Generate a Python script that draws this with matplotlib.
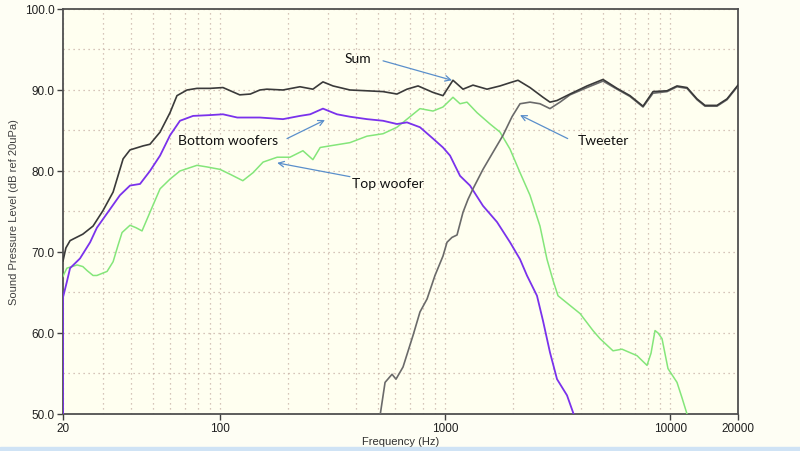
import numpy as np
import matplotlib.pyplot as plt
from matplotlib.ticker import FixedLocator, NullFormatter, MultipleLocator

# frequency (Hz) / level (dB)
sum_f = [20, 20.6, 21.5, 22.2, 24.5, 27.2, 30.1, 33.4, 37.0, 39.7, 45.4, 48.7, 54.0, 59.8, 64.2,
         71.2, 78.8, 90.0, 102.8, 122, 136, 150, 161, 190, 226, 258, 286, 317, 377, 449, 529,
         610, 676, 757, 882, 977, 1082, 1199, 1328, 1533, 1751, 1940, 2105, 2380, 2719, 2920,
         3138, 3584, 4266, 5024, 5798, 6622, 7566, 8380, 9672, 10714, 11868, 13148, 14268,
         16130, 17872, 20000]
sum_db = [68.9, 70.5, 71.4, 71.6, 72.2, 73.2, 75.1, 77.4, 81.5, 82.6, 83.1, 83.3, 84.8, 87.2, 89.3,
          90.0, 90.2, 90.2, 90.3, 89.4, 89.5, 90.0, 90.1, 90.0, 90.4, 90.1, 91.0, 90.5, 90.0, 89.9, 89.8,
          89.5, 90.1, 90.5, 89.7, 89.3, 91.2, 90.1, 90.6, 90.1, 90.5, 90.9, 91.2, 90.3, 89.1, 88.5,
          88.7, 89.5, 90.5, 91.3, 90.2, 89.3, 88.0, 89.8, 89.9, 90.5, 90.3, 88.9, 88.1,
          88.1, 88.9, 90.6]

bottom_f = [20, 20, 20.8, 21.5, 23.8, 26.4, 28.3, 32.4, 35.8, 39.7, 44.0, 48.7, 54.0, 59.8, 66.2,
            75.7, 90.0, 102.8, 119, 150, 190, 226, 251, 286, 330, 377, 449, 529, 610, 676, 772,
            882, 977, 1050, 1163, 1288, 1471, 1698, 1940, 2149, 2307, 2556, 2719, 2920, 3138,
            3476, 3697, 3890]
bottom_db = [45, 64.4, 66.3, 68.0, 69.2, 71.2, 73.0, 75.3, 77.0, 78.2, 78.4, 80.0, 81.9, 84.4, 86.2,
             86.8, 86.9, 87.0, 86.6, 86.6, 86.4, 86.8, 87.0, 87.7, 87.0, 86.7, 86.4, 86.2, 85.8, 86.0, 85.4,
             84.0, 82.9, 81.9, 79.4, 78.2, 75.7, 73.7, 71.2, 69.1, 67.1, 64.6, 61.5, 57.6, 54.3,
             52.3, 50.2, 48]

top_f = [20, 20.8, 23.1, 24.5, 25.6, 27.2, 28.3, 30.1, 31.4, 33.4, 35.1, 36.6, 39.7, 42.2, 44.9,
         48.7, 54.0, 59.8, 66.2, 78.8, 87.3, 99.7, 110.5, 126, 140, 155, 179, 204, 233, 258,
         278, 307, 377, 449, 529, 610, 676, 772, 882, 977, 1082, 1163, 1249, 1384, 1581, 1751,
         1940, 2149, 2380, 2636, 2832, 3012, 3170, 3584, 3972, 4534, 4871, 5565, 6102, 7116,
         7882, 8212, 8556, 8823, 9190, 9770, 10714, 11276, 11868, 12114]
top_db = [67.0, 68.0, 68.4, 68.2, 67.7, 67.1, 67.1, 67.4, 67.6, 68.8, 70.8, 72.4, 73.3, 73.0, 72.6,
          74.9, 77.8, 79.0, 80.0, 80.7, 80.5, 80.2, 79.6, 78.8, 79.8, 81.1, 81.7, 81.7, 82.5, 81.4,
          82.9, 83.1, 83.5, 84.3, 84.6, 85.4, 86.4, 87.7, 87.4, 87.9, 89.1, 88.3, 88.5, 87.2, 85.8, 84.8,
          82.7, 79.8, 77.0, 73.2, 69.1, 66.5, 64.6, 63.4, 62.4, 60.3, 59.3, 57.8, 58.0, 57.2,
          56.0, 57.5, 60.3, 60.0, 59.3, 55.6, 53.9, 52.0, 50.0, 49]

tw_f = [508, 540, 580, 604, 649, 719, 772, 830, 900, 977, 1018, 1071, 1128, 1199, 1262, 1328,
        1471, 1629, 1805, 1980, 2149, 2380, 2636, 2920, 3236, 3584, 4266, 5024, 5798, 6622,
        7566, 8380, 9672, 10714, 11868, 13148, 14268, 16130, 17872, 20000]
tw_db = [49, 53.9, 54.9, 54.3, 55.8, 59.7, 62.6, 64.2, 67.1, 69.5, 71.2, 71.8, 72.1, 74.9, 76.5, 77.8,
         80.2, 82.3, 84.4, 86.7, 88.3, 88.5, 88.3, 87.7, 88.5, 89.4, 90.3, 91.1, 90.1, 89.2,
         87.9, 89.6, 89.8, 90.4, 90.2, 88.8, 88.0, 88.0, 88.8, 90.5]

bg = '#FFFFF0'
fig = plt.figure(figsize=(8, 4.52), dpi=100, facecolor='#FEFEF4')
ax = fig.add_axes([0.07875, 0.0819, 0.84375, 0.896])
ax.set_facecolor(bg)

ax.plot(top_f, top_db, color='#84E67A', lw=1.1, zorder=3)
ax.plot(bottom_f, bottom_db, color='#7A32EC', lw=1.3, zorder=4)
ax.plot(tw_f, tw_db, color='#6A6A6A', lw=1.2, zorder=5)
ax.plot(sum_f, sum_db, color='#3A3A3A', lw=1.2, zorder=6)

ax.set_xscale('log')
ax.set_xlim(20, 20000)
ax.set_ylim(50, 100)

ax.xaxis.set_major_locator(FixedLocator([20, 100, 1000, 10000, 20000]))
ax.xaxis.set_major_formatter(plt.FuncFormatter(lambda v, p: '%d' % v))
minors = [m * d for d in (10, 100, 1000) for m in range(2, 10)]
ax.xaxis.set_minor_locator(FixedLocator(minors))
ax.xaxis.set_minor_formatter(NullFormatter())
ax.yaxis.set_major_locator(MultipleLocator(10))
ax.yaxis.set_major_formatter(plt.FuncFormatter(lambda v, p: '%.1f' % v))
ax.yaxis.set_minor_locator(MultipleLocator(5))

grid_kw = dict(color='#C9B3A8', linestyle=(0, (1, 3)), lw=0.9)
ax.grid(True, which='both', axis='x', **grid_kw)
ax.grid(True, which='both', axis='y', **grid_kw)
ax.tick_params(which='minor', length=0)
ax.tick_params(which='major', length=4, width=1, color='#404040', labelsize=8.5,
               labelcolor='#202020', pad=2)
for lab in ax.get_xticklabels() + ax.get_yticklabels():
    lab.set_family('Liberation Sans')
for s in ax.spines.values():
    s.set_color('#505050')
    s.set_linewidth(1.3)

ax.set_xlabel('Frequency (Hz)', fontsize=8, family='Liberation Sans', color='#303030', labelpad=1)
ax.set_ylabel('Sound Pressure Level (dB ref 20uPa)', fontsize=8, family='Liberation Sans',
              color='#404040', labelpad=4)

# callouts: text, then a separate arrow
arrow = dict(arrowstyle='->', color='#5A8FCB', lw=0.9, shrinkA=0, shrinkB=0)
tk = dict(fontsize=10, family='Lato', color='#111111', va='center', ha='center')
ax.text(410, 94.0, 'Sum', **tk)
ax.annotate('', xy=(1071, 91.2), xytext=(529, 93.6), arrowprops=arrow)
ax.text(108, 83.8, 'Bottom woofers', **tk)
ax.annotate('', xy=(292, 86.3), xytext=(198, 84.0), arrowprops=arrow)
ax.text(556, 78.5, 'Top woofer', **tk)
ax.annotate('', xy=(179, 81.0), xytext=(377, 79.3), arrowprops=arrow)
ax.text(5024, 83.8, 'Tweeter', **tk)
ax.annotate('', xy=(2149, 86.9), xytext=(3500, 84.0), arrowprops=arrow)

# light blue strip at the bottom edge of the window
fig.patches.append(plt.Rectangle((0, 0), 1, 0.008, transform=fig.transFigure,
                                 color='#CFE3F5', zorder=0))

fig.savefig('out.png', dpi=100, facecolor=fig.get_facecolor())
